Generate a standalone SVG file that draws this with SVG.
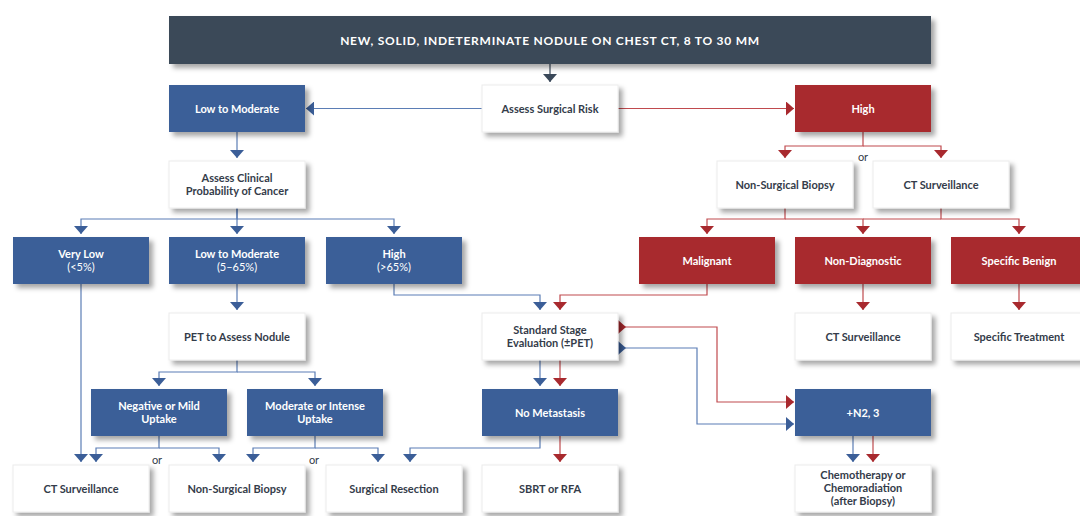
<svg xmlns="http://www.w3.org/2000/svg" width="1080" height="516" viewBox="0 0 1080 516">
<defs>
<filter id="sh" x="-10%" y="-20%" width="130%" height="160%">
<feDropShadow dx="4" dy="4" stdDeviation="2.5" flood-color="#000" flood-opacity="0.35"/>
</filter>
<marker id="aB" viewBox="0 0 8 14" refX="8" refY="7" markerWidth="8" markerHeight="14" markerUnits="userSpaceOnUse" orient="auto"><path d="M0,0 L8,7 L0,14 Z" fill="#3b5e98"/></marker>
<marker id="aR" viewBox="0 0 8 14" refX="8" refY="7" markerWidth="8" markerHeight="14" markerUnits="userSpaceOnUse" orient="auto"><path d="M0,0 L8,7 L0,14 Z" fill="#a8292e"/></marker>
<marker id="aD" viewBox="0 0 8 14" refX="8" refY="7" markerWidth="8" markerHeight="14" markerUnits="userSpaceOnUse" orient="auto"><path d="M0,0 L8,7 L0,14 Z" fill="#3a4859"/></marker>
<marker id="sB" viewBox="0 0 8 14" refX="0" refY="7" markerWidth="8" markerHeight="14" markerUnits="userSpaceOnUse" orient="auto"><path d="M0,0 L8,7 L0,14 Z" fill="#3b5e98"/></marker>
<marker id="sR" viewBox="0 0 8 14" refX="0" refY="7" markerWidth="8" markerHeight="14" markerUnits="userSpaceOnUse" orient="auto"><path d="M0,0 L8,7 L0,14 Z" fill="#a8292e"/></marker>
</defs>
<style>
.box{filter:url(#sh)}
.w{fill:#ffffff;stroke:#ececec;stroke-width:1}
.b{fill:#3b5e98}
.r{fill:#a8292e}
.d{fill:#3a4859}
text{font-family:"Lato","Liberation Sans",sans-serif;font-size:11px;font-weight:700;text-anchor:middle}
.tw{fill:#ffffff}
.tk{fill:#343c4a}
.lt{font-weight:400}
.ban{font-size:12px;letter-spacing:0.75px;fill:#ffffff}
.or{font-weight:400;fill:#343c4a;font-size:11px}
.lb{fill:none;stroke:#5b7db5;stroke-width:1.2}
.lr{fill:none;stroke:#c04a4e;stroke-width:1.2}
.ld{fill:none;stroke:#3a4859;stroke-width:1.2}
.mb{marker-end:url(#aB)}
.mr{marker-end:url(#aR)}
</style>

<g id="connectors">
<path class="ld" d="M550,64 V82" marker-end="url(#aD)"/>
<path class="lb mb" d="M482,108.5 H306"/>
<path class="lr mr" d="M618,108.5 H794"/>
<path class="lb mb" d="M237,132 V158"/>
<path class="lr mr" d="M863,132 V146 H785 V158"/>
<path class="lr mr" d="M863,146 H941 V158"/>
<path class="lb mb" d="M237,208 V219 H81 V234"/>
<path class="lb mb" d="M237,208 V234"/>
<path class="lb mb" d="M237,219 H394 V234"/>
<path class="lr mr" d="M785,208 V219 H707 V234"/>
<path class="lr mr" d="M785,219 H863 V234"/>
<path class="lr mr" d="M941,208 V219 H1019 V234"/>
<path class="lr" d="M941,219 H863"/>
<path class="lb mb" d="M81,284 V462"/>
<path class="lb mb" d="M237,284 V310"/>
<path class="lb mb" d="M394,284 V295 H540 V310"/>
<path class="lr mr" d="M707,284 V295 H560 V310"/>
<path class="lr mr" d="M863,284 V310"/>
<path class="lr mr" d="M1019,284 V310"/>
<path class="lb mb" d="M237,360 V372 H159 V386"/>
<path class="lb mb" d="M237,372 H315 V386"/>
<path class="lb mb" d="M540,360 V386"/>
<path class="lr mr" d="M560,360 V386"/>
<path class="lr mr" d="M618,327 H717 V402 H794" marker-start="url(#sR)"/>
<path class="lb mb" d="M618,348 H697 V424 H794" marker-start="url(#sB)"/>
<path class="lb mb" d="M159,436 V448 H96 V462"/>
<path class="lb mb" d="M159,448 H219 V462"/>
<path class="lb mb" d="M315,436 V448 H253 V462"/>
<path class="lb mb" d="M315,448 H378 V462"/>
<path class="lb mb" d="M540,436 V448 H410 V462"/>
<path class="lr mr" d="M560,436 V462"/>
<path class="lb mb" d="M853,436 V462"/>
<path class="lr mr" d="M873,436 V462"/>
<text class="or" x="863" y="161">or</text>
<text class="or" x="157" y="464">or</text>
<text class="or" x="314" y="464">or</text>
</g>

<g id="banner"><rect class="box d" x="169" y="16" width="762" height="48"/><text class="ban" x="550" y="44.5">NEW, SOLID, INDETERMINATE NODULE ON CHEST CT, 8 TO 30 MM</text></g>

<g id="surg-low"><rect class="box b" x="169" y="85" width="136" height="47"/><text class="tw" x="237" y="112.5">Low to Moderate</text></g>
<g id="assess-surg"><rect class="box w" x="482" y="85" width="136" height="47"/><text class="tk" x="550" y="112.5">Assess Surgical Risk</text></g>
<g id="surg-high"><rect class="box r" x="795" y="85" width="136" height="47"/><text class="tw" x="863" y="112.5">High</text></g>

<g id="assess-clin"><rect class="box w" x="169" y="161" width="136" height="47"/><text class="tk" x="237" y="182">Assess Clinical</text><text class="tk" x="237" y="195">Probability of Cancer</text></g>
<g id="nsb-r"><rect class="box w" x="717" y="161" width="136" height="47"/><text class="tk" x="785" y="188.5">Non-Surgical Biopsy</text></g>
<g id="cts-r"><rect class="box w" x="873" y="161" width="136" height="47"/><text class="tk" x="941" y="188.5">CT Surveillance</text></g>

<g id="very-low"><rect class="box b" x="13" y="237" width="136" height="47"/><text class="tw" x="81" y="258">Very Low</text><text class="tw lt" x="81" y="271">(&lt;5%)</text></g>
<g id="clin-mod"><rect class="box b" x="169" y="237" width="136" height="47"/><text class="tw" x="237" y="258">Low to Moderate</text><text class="tw lt" x="237" y="271">(5–65%)</text></g>
<g id="clin-high"><rect class="box b" x="326" y="237" width="136" height="47"/><text class="tw" x="394" y="258">High</text><text class="tw lt" x="394" y="271">(&gt;65%)</text></g>
<g id="malignant"><rect class="box r" x="639" y="237" width="136" height="47"/><text class="tw" x="707" y="264.5">Malignant</text></g>
<g id="non-diag"><rect class="box r" x="795" y="237" width="136" height="47"/><text class="tw" x="863" y="264.5">Non-Diagnostic</text></g>
<g id="spec-benign"><rect class="box r" x="951" y="237" width="136" height="47"/><text class="tw" x="1019" y="264.5">Specific Benign</text></g>

<g id="pet"><rect class="box w" x="169" y="313" width="136" height="47"/><text class="tk" x="237" y="340.5">PET to Assess Nodule</text></g>
<g id="std-stage"><rect class="box w" x="482" y="313" width="136" height="47"/><text class="tk" x="550" y="334">Standard Stage</text><text class="tk" x="550" y="347">Evaluation (±PET)</text></g>
<g id="cts-r2"><rect class="box w" x="795" y="313" width="136" height="47"/><text class="tk" x="863" y="340.5">CT Surveillance</text></g>
<g id="spec-treat"><rect class="box w" x="951" y="313" width="136" height="47"/><text class="tk" x="1019" y="340.5">Specific Treatment</text></g>

<g id="neg-mild"><rect class="box b" x="91" y="389" width="136" height="47"/><text class="tw" x="159" y="410">Negative or Mild</text><text class="tw" x="159" y="423">Uptake</text></g>
<g id="mod-int"><rect class="box b" x="247" y="389" width="136" height="47"/><text class="tw" x="315" y="410">Moderate or Intense</text><text class="tw" x="315" y="423">Uptake</text></g>
<g id="no-met"><rect class="box b" x="482" y="389" width="136" height="47"/><text class="tw" x="550" y="416.5">No Metastasis</text></g>
<g id="n23"><rect class="box b" x="795" y="389" width="136" height="47"/><text class="tw" x="863" y="416.5">+N2, 3</text></g>

<g id="cts-l"><rect class="box w" x="13" y="465" width="136" height="47"/><text class="tk" x="81" y="492.5">CT Surveillance</text></g>
<g id="nsb-l"><rect class="box w" x="169" y="465" width="136" height="47"/><text class="tk" x="237" y="492.5">Non-Surgical Biopsy</text></g>
<g id="surg-res"><rect class="box w" x="326" y="465" width="136" height="47"/><text class="tk" x="394" y="492.5">Surgical Resection</text></g>
<g id="sbrt"><rect class="box w" x="482" y="465" width="136" height="47"/><text class="tk" x="550" y="492.5">SBRT or RFA</text></g>
<g id="chemo"><rect class="box w" x="795" y="465" width="136" height="47"/><text class="tk" x="863" y="479">Chemotherapy or</text><text class="tk" x="863" y="492">Chemoradiation</text><text class="tk" x="863" y="505">(after Biopsy)</text></g>
</svg>
